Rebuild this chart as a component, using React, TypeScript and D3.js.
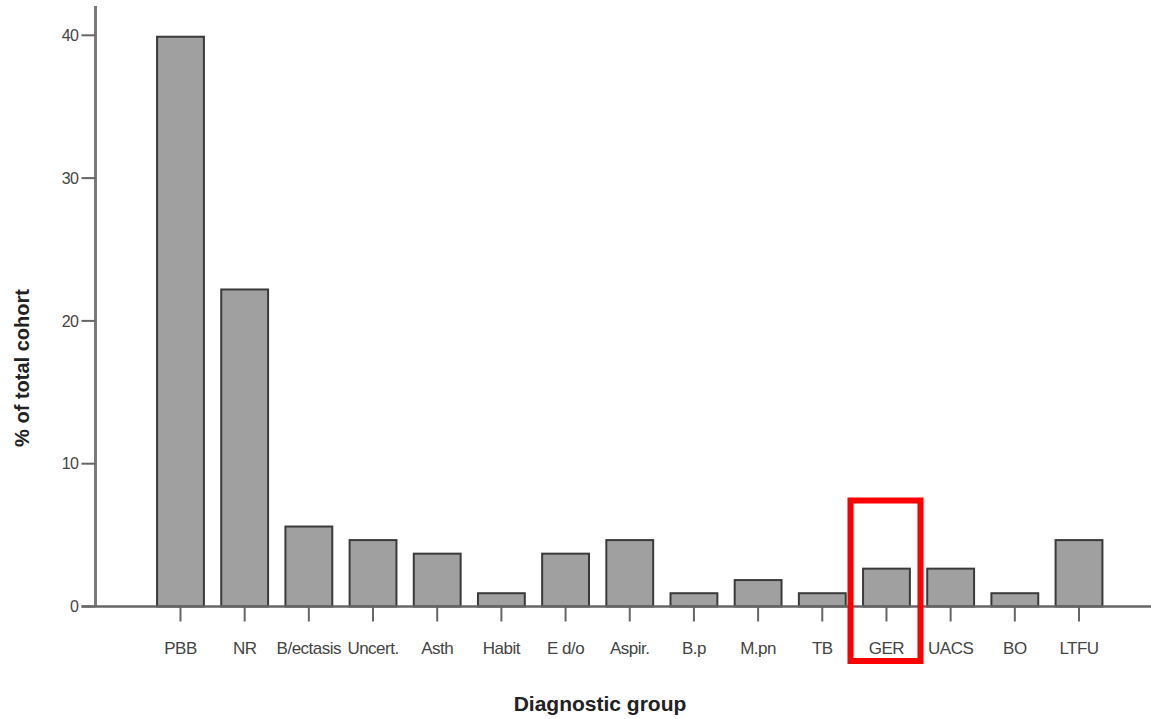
import React from "react";
import * as d3 from "d3";

const categories = ["PBB", "NR", "B/ectasis", "Uncert.", "Asth", "Habit", "E d/o", "Aspir.", "B.p", "M.pn", "TB", "GER", "UACS", "BO", "LTFU"];
const values = [39.9, 22.2, 5.6, 4.65, 3.7, 0.93, 3.7, 4.65, 0.93, 1.85, 0.93, 2.65, 2.65, 0.93, 4.65];
const yTicks = [0, 10, 20, 30, 40];
const highlighted = "GER";

export default function App() {
  const W = 1151, H = 719;
  const axisX = 95.5;
  const x = d3.scaleBand<string>().domain(categories).range([148.4, 1111.1]).paddingInner(0.27).paddingOuter(0.135);
  const y = d3.scaleLinear().domain([0, 40]).range([606.5, 35.3]);
  const font = "'Liberation Sans', Arial, sans-serif";
  const hx = x(highlighted)! + x.bandwidth() / 2;
  return (
    <svg width={W} height={H} style={{ position: "absolute", left: 0, top: 0, background: "#fff" }}>
      {categories.map((c, i) => (
        <rect key={c} x={x(c)} y={y(values[i])} width={x.bandwidth()} height={y(0) - y(values[i])}
          fill="#a0a0a0" stroke="#3a3a3a" strokeWidth={2} />
      ))}
      <line x1={axisX} x2={axisX} y1={6} y2={y(0)} stroke="#7a7a7a" strokeWidth={3} />
      {yTicks.map(t => (
        <g key={t}>
          <line x1={axisX - 14} x2={axisX} y1={y(t)} y2={y(t)} stroke="#666" strokeWidth={2} />
          <text x={axisX - 17} y={y(t)} dy="0.35em" textAnchor="end" fontFamily={font} fontSize={16} fill="#444" letterSpacing={-0.5}>{t}</text>
        </g>
      ))}
      <line x1={axisX - 14} x2={1151} y1={y(0)} y2={y(0)} stroke="#666" strokeWidth={2.5} />
      {categories.map(c => {
        const cx = x(c)! + x.bandwidth() / 2;
        return (
          <g key={c}>
            <line x1={cx} x2={cx} y1={y(0)} y2={y(0) + 15} stroke="#666" strokeWidth={2} />
            <text x={cx} y={654} textAnchor="middle" fontFamily={font} fontSize={17} fill="#444" letterSpacing={-0.5}>{c}</text>
          </g>
        );
      })}
      <text x={600} y={711} textAnchor="middle" fontFamily={font} fontSize={21} fontWeight="bold" fill="#222">Diagnostic group</text>
      <text transform={`translate(29,368) rotate(-90)`} textAnchor="middle" fontFamily={font} fontSize={20} fontWeight="bold" fill="#222">% of total cohort</text>
      <rect x={hx - 36} y={500.5} width={70} height={160.5} fill="none" stroke="#ff0000" strokeWidth={6} />
    </svg>
  );
}
